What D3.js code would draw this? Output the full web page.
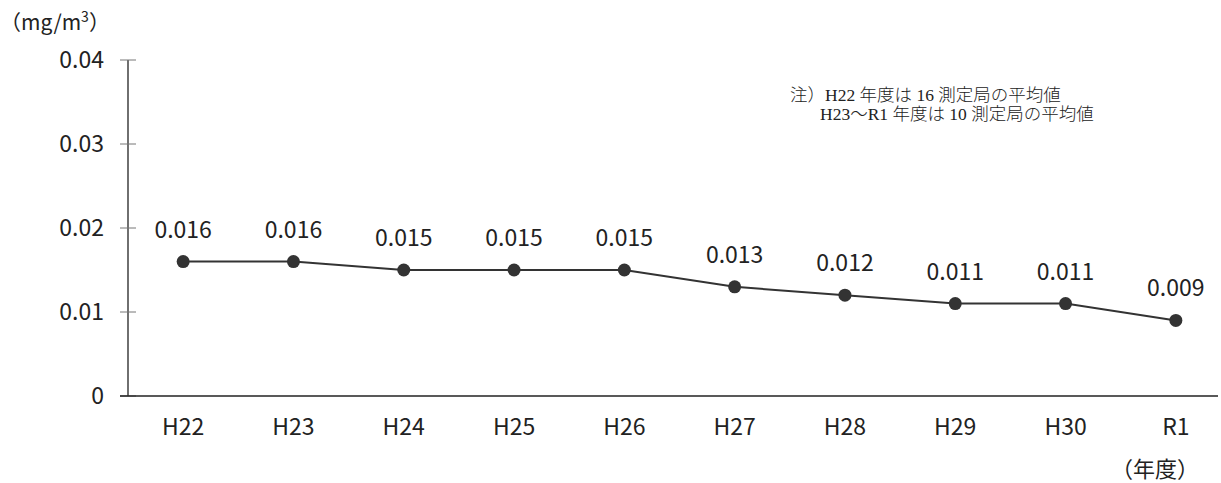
<!DOCTYPE html>
<html lang="ja">
<head>
    <meta charset="utf-8" />
    <title>年度別平均値</title>
    <script src="https://d3js.org/d3.v7.min.js"></script>
    <style>
        body {
            margin: 0;
            padding: 0;
            background: #fff;
        }
        svg text {
            font-family: "Noto Sans CJK JP", "Noto Sans", sans-serif;
            fill: #222;
        }
        .note text {
            font-family: "Liberation Serif", "Noto Sans CJK JP", serif;
            font-weight: 300;
        }
    </style>
</head>
<body>
<svg id="chart"></svg>
<script>
    var w = 1221;
    var h = 483;

    // data
    var years = ["H22", "H23", "H24", "H25", "H26", "H27", "H28", "H29", "H30", "R1"];
    var values = [0.016, 0.016, 0.015, 0.015, 0.015, 0.013, 0.012, 0.011, 0.011, 0.009];
    var yTicks = [0, 0.01, 0.02, 0.03, 0.04];
    var noteLines = ["注）H22 年度は 16 測定局の平均値", "H23～R1 年度は 10 測定局の平均値"];

    var svg = d3.select("#chart")
                .attr("width", w)
                .attr("height", h);

    // x scale: one band per year
    var xScale = d3.scaleBand()
                .domain(years)
                .range([128, 1231]);

    var yScale = d3.scaleLinear()
                .domain([0, 0.04])
                .range([396, 60]);

    // y axis line
    svg.append("line")
        .attr("x1", 128).attr("x2", 128)
        .attr("y1", yScale(0.04)).attr("y2", yScale(0))
        .attr("stroke", "#222")
        .attr("stroke-width", 1.3);

    // y ticks crossing the axis
    svg.selectAll(".ytick")
        .data(yTicks)
        .enter().append("line")
        .attr("class", "ytick")
        .attr("x1", 120).attr("x2", 136)
        .attr("y1", function(d) { return yScale(d); })
        .attr("y2", function(d) { return yScale(d); })
        .attr("stroke", "#777")
        .attr("stroke-width", 1);

    svg.selectAll(".ylabel")
        .data(yTicks)
        .enter().append("text")
        .attr("class", "ylabel")
        .attr("x", 104)
        .attr("y", function(d) { return yScale(d); })
        .attr("dy", "0.36em")
        .attr("text-anchor", "end")
        .attr("font-size", "23px")
        .text(function(d) { return d === 0 ? "0" : d.toFixed(2); });

    // x axis line
    svg.append("line")
        .attr("x1", 120).attr("x2", 1218)
        .attr("y1", yScale(0)).attr("y2", yScale(0))
        .attr("stroke", "#222")
        .attr("stroke-width", 1.3);

    svg.selectAll(".xlabel")
        .data(years)
        .enter().append("text")
        .attr("class", "xlabel")
        .attr("x", function(d) { return xScale(d) + xScale.bandwidth() / 2; })
        .attr("y", 435)
        .attr("text-anchor", "middle")
        .attr("font-size", "23px")
        .text(function(d) { return d; });

    // the line
    var line = d3.line()
        .x(function(d, i) { return xScale(years[i]) + xScale.bandwidth() / 2; })
        .y(function(d) { return yScale(d); });

    svg.append("path")
        .datum(values)
        .attr("d", line)
        .attr("fill", "none")
        .attr("stroke", "#333")
        .attr("stroke-width", 2);

    svg.selectAll(".dot")
        .data(values)
        .enter().append("circle")
        .attr("class", "dot")
        .attr("cx", function(d, i) { return xScale(years[i]) + xScale.bandwidth() / 2; })
        .attr("cy", function(d) { return yScale(d); })
        .attr("r", 6.5)
        .attr("fill", "#333");

    // value labels
    svg.selectAll(".vlabel")
        .data(values)
        .enter().append("text")
        .attr("class", "vlabel")
        .attr("x", function(d, i) { return xScale(years[i]) + xScale.bandwidth() / 2; })
        .attr("y", function(d) { return yScale(d) - 24; })
        .attr("text-anchor", "middle")
        .attr("font-size", "23px")
        .text(function(d) { return d.toFixed(3); });

    // unit and category titles
    svg.append("text")
        .attr("x", 0)
        .attr("y", 30)
        .attr("font-size", "21px")
        .html("（mg/m<tspan font-size='14px' dy='-8'>3</tspan><tspan dy='8'>）</tspan>");

    svg.append("text")
        .attr("x", 1111)
        .attr("y", 477)
        .attr("font-size", "22px")
        .text("（年度）");

    // note
    var note = svg.append("g").attr("class", "note");
    note.selectAll("text")
        .data(noteLines)
        .enter().append("text")
        .attr("x", function(d, i) { return i === 0 ? 790 : 820; })
        .attr("y", function(d, i) { return 101 + i * 19; })
        .attr("font-size", "17.5px")
        .text(function(d) { return d; });
</script>
</body>
</html>
